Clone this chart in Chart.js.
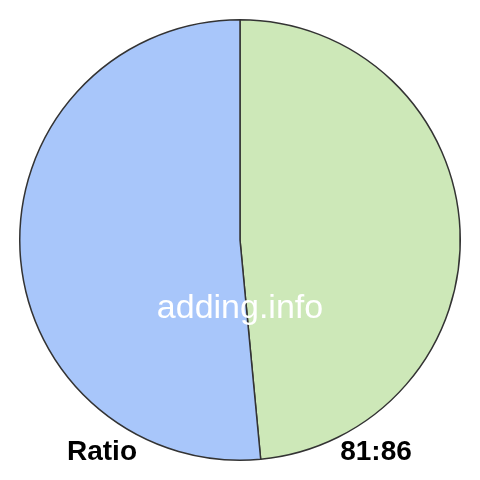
<!DOCTYPE html>
<html>
<head>
<meta charset="utf-8">
<script src="https://cdn.jsdelivr.net/npm/chart.js@4"></script>
<style>
  html, body { margin: 0; padding: 0; background: #fff; }
  #wrap { width: 480px; height: 480px; }
</style>
</head>
<body>
<div id="wrap"><canvas id="myChart"></canvas></div>
<script>
const labels = ['81', '86']
const values = [81, 86]
const colors = ['#cde8b8', '#a8c6fa']

// texts drawn over the pie
const overlay = {
    id: 'overlay',
    afterDraw(chart) {
        const c = chart.ctx
        c.save()
        c.textAlign = 'center'
        c.textBaseline = 'alphabetic'
        c.fillStyle = '#ffffff'
        c.font = '34px "Liberation Sans", Arial, sans-serif'
        c.fillText('adding.info', 240, 318)
        c.fillStyle = '#000000'
        c.font = 'bold 28px "Liberation Sans", Arial, sans-serif'
        c.fillText('Ratio', 102, 460)
        c.fillText(labels[0] + ':' + labels[1], 376, 460)
        c.restore()
    }
}

let ctx = document.querySelector('#myChart').getContext('2d')
let myChart = new Chart(ctx, {
    type: 'pie',
    data: {
        labels: labels,
        datasets: [{
            data: values,
            backgroundColor: colors,
            borderColor: '#333333',
            borderWidth: 1.5
        }]
    },
    options: {
        responsive: true,
        maintainAspectRatio: false,
        animation: false,
        layout: { padding: 19 },
        plugins: {
            legend: { display: false },
            tooltip: { enabled: false }
        }
    },
    plugins: [overlay]
})
</script>
</body>
</html>
